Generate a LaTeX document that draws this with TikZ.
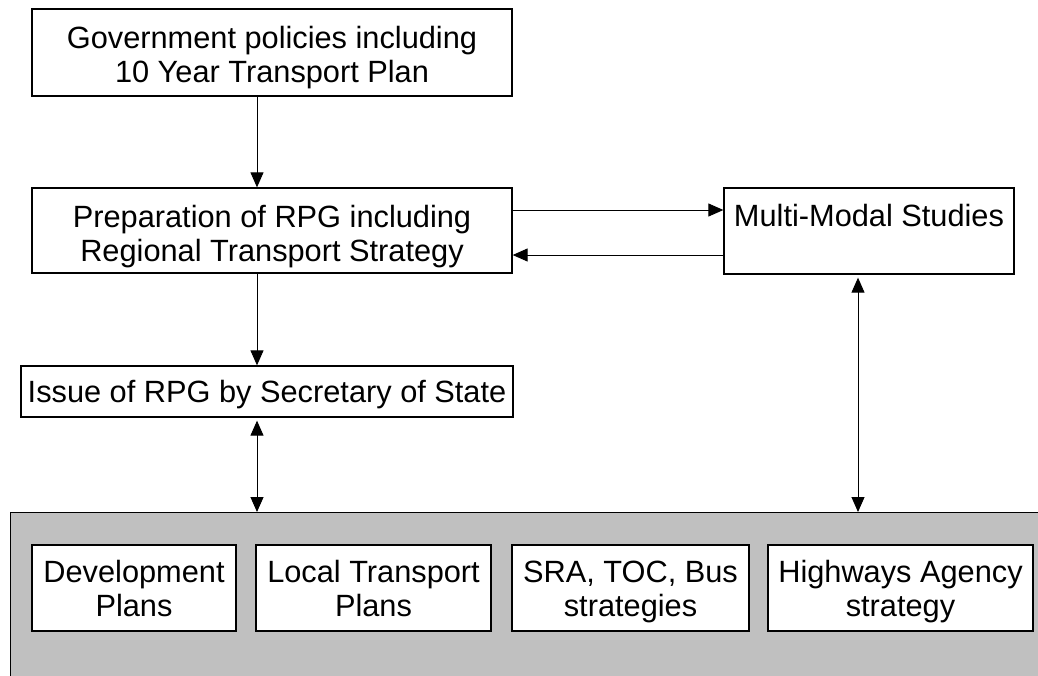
\documentclass[tikz,border=0pt]{standalone}
\usepackage{fontspec}
\setmainfont{Liberation Sans}
\usetikzlibrary{arrows.meta}
\definecolor{panelgray}{RGB}{192,192,192}
\newcommand{\topstrut}[1]{\rule{0pt}{#1}}
\newcommand{\botstrut}{\rule[-7pt]{0pt}{7pt}}

\begin{document}
\begin{tikzpicture}[x=1pt,y=-1pt,
    box/.style={draw,fill=white,line width=1.3pt,align=center,inner sep=0pt,
        font=\fontsize{30.75}{34}\selectfont},
    link/.style={line width=1pt,-{Triangle[length=15pt,width=13pt]}},
    both/.style={line width=1pt,{Triangle[length=15pt,width=13pt]}-{Triangle[length=15pt,width=13pt]}}]
  \clip (0,0) rectangle (1038,675);
  \coordinate (left) at (257,0);
  \coordinate (right) at (858,0);
  \coordinate (up) at (0,210);
  \coordinate (down) at (0,255);
  % grey panel that holds the local strategies
  \node[draw,fill=panelgray,line width=1.3pt,anchor=north west,
        minimum width=1100pt,minimum height=220pt] (panel) at (10,512) {};
  \node[box,minimum width=480pt,minimum height=87pt] (gov) at (272,52.5)
      {\topstrut{33pt}Government policies including\\10 Year Transport Plan};
  \node[box,minimum width=480pt,minimum height=85pt] (prep) at (272,230.5)
      {\topstrut{34pt}Preparation of RPG including\\Regional Transport Strategy};
  \node[box,minimum width=290pt,minimum height=86pt,text height=22pt,text depth=32pt]
      (mm) at (869,231) {Multi-Modal Studies};
  \node[box,minimum width=492pt,minimum height=51pt] (iss) at (267,391.5)
      {\topstrut{28pt}Issue of RPG by Secretary of State};
  % boxes inside the panel
  \node[box,minimum width=204pt,minimum height=86pt] (dev) at (134,588)
      {\topstrut{29pt}Development\\Plans\botstrut};
  \node[box,minimum width=235pt,minimum height=86pt] (ltp) at (373.5,588)
      {\topstrut{29pt}Local Transport\\Plans\botstrut};
  \node[box,minimum width=237pt,minimum height=86pt] (sra) at (630.5,588)
      {\topstrut{29pt}SRA, TOC, Bus\\strategies\botstrut};
  \node[box,minimum width=265pt,minimum height=86pt] (ha) at (900.5,588)
      {\topstrut{29pt}Highways Agency\\strategy\botstrut};
  % arrows
  \draw[link] (gov.south -| left) -- (prep.north -| left);
  \draw[link] (prep.east |- up) -- (mm.west |- up);
  \draw[link] (mm.west |- down) -- (prep.east |- down);
  \draw[link] (prep.south -| left) -- (iss.north -| left);
  \draw[both,shorten <=3pt] (iss.south -| left) -- (panel.north -| left);
  \draw[both,shorten <=3pt] (mm.south -| right) -- (panel.north -| right);
\end{tikzpicture}
\end{document}
